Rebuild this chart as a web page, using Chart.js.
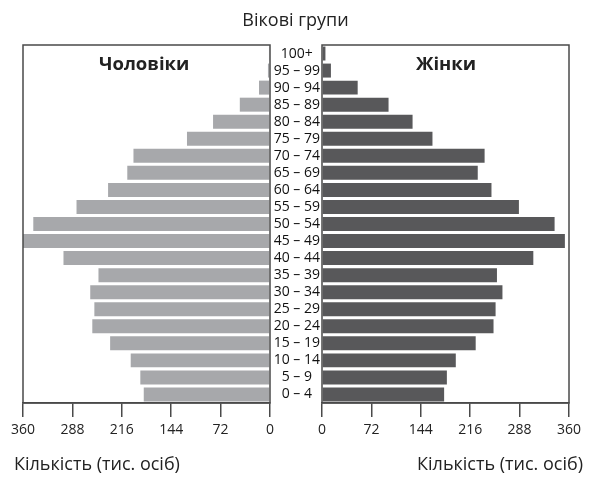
<!DOCTYPE html>
<html>
<head>
<meta charset="utf-8">
<script src="https://cdn.jsdelivr.net/npm/chart.js@4.4.1/dist/chart.umd.min.js"></script>
<style>
  body { margin: 0; background: #fff; }
  #wrap { position: relative; width: 591px; height: 478px; font-family: "Open Sans", sans-serif; color: #222; }
  canvas { position: absolute; left: 0; top: 0; }
  .txt { position: absolute; white-space: nowrap; }
</style>
</head>
<body>
<div id="wrap">
  <canvas id="graficoHombres" width="591" height="478"></canvas>
  <canvas id="graficoMujeres" width="591" height="478"></canvas>
  <div class="txt" style="left:0; width:591px; text-align:center; top:7px; font-size:18px;">Вікові групи</div>
  <div class="txt" style="left:99px; top:50px; font-size:18.5px; font-weight:bold;">Чоловіки</div>
  <div class="txt" style="left:416px; top:50px; font-size:18.5px; font-weight:bold;">Жінки</div>
  <div class="txt" style="left:14px; top:451px; font-size:18px;">Кількість (тис. осіб)</div>
  <div class="txt" style="right:8px; top:451px; font-size:18px;">Кількість (тис. осіб)</div>
</div>
<script>
// Grupos de edad (de menor a mayor)
const grupos = ['0 – 4', '5 – 9', '10 – 14', '15 – 19', '20 – 24', '25 – 29', '30 – 34', '35 – 39',
    '40 – 44', '45 – 49', '50 – 54', '55 – 59', '60 – 64', '65 – 69', '70 – 74', '75 – 79',
    '80 – 84', '85 – 89', '90 – 94', '95 – 99', '100+'];
const hombres = [184, 189, 203, 233, 259, 256, 262, 250, 301, 360, 345, 282, 236, 208, 199, 121, 83, 44, 16, 3, 1.5];
const mujeres = [178, 182, 195, 224, 250, 253, 263, 255, 308, 354, 339, 287, 247, 227, 237, 161, 132, 97, 52, 13, 5];
const ticksX = [0, 72, 144, 216, 288, 360];

const colorBorde = '#4a4a4a';

// Marco alrededor del área del gráfico
const marco = {
    id: 'marco',
    afterDraw(chart) {
        const a = chart.chartArea;
        const ctx = chart.ctx;
        ctx.save();
        ctx.strokeStyle = colorBorde;
        ctx.lineWidth = 1.5;
        ctx.strokeRect(a.left, a.top, a.right - a.left, a.bottom - a.top);
        ctx.restore();
    }
};

const ejeX = (invertido) => ({
    type: 'linear',
    min: 0,
    max: 360,
    reverse: invertido,
    afterBuildTicks: (scale) => { scale.ticks = ticksX.map(v => ({ value: v })); },
    afterFit: (scale) => { scale.height = 75; },
    grid: { drawOnChartArea: false, drawTicks: true, tickLength: 14, color: colorBorde, lineWidth: 1.5 },
    border: { display: true, color: colorBorde, width: 1.5 },
    ticks: { color: '#222', font: { family: 'Open Sans', size: 14 }, padding: 5, maxRotation: 0 }
});

const opcionesBase = {
    responsive: false,
    animation: false,
    indexAxis: 'y',
    plugins: { legend: { display: false }, tooltip: { enabled: false } }
};

new Chart(document.getElementById('graficoHombres').getContext('2d'), {
    type: 'bar',
    data: {
        labels: grupos,
        datasets: [{ data: hombres, backgroundColor: '#a7a8ab', barPercentage: 0.82, categoryPercentage: 1 }]
    },
    options: {
        ...opcionesBase,
        layout: { padding: { left: 23, right: 321, top: 45, bottom: 0 } },
        scales: {
            x: ejeX(true),
            y: { display: false, reverse: true }
        }
    },
    plugins: [marco]
});

new Chart(document.getElementById('graficoMujeres').getContext('2d'), {
    type: 'bar',
    data: {
        labels: grupos,
        datasets: [{ data: mujeres, backgroundColor: '#58585a', barPercentage: 0.82, categoryPercentage: 1 }]
    },
    options: {
        ...opcionesBase,
        layout: { padding: { left: 270, right: 22, top: 45, bottom: 0 } },
        scales: {
            x: ejeX(false),
            y: {
                reverse: true,
                position: 'left',
                afterFit: (scale) => { scale.width = 52; },
                grid: { display: false, drawTicks: false },
                border: { display: false },
                ticks: { color: '#111', font: { family: 'Open Sans', size: 14 }, padding: 2, crossAlign: 'center', autoSkip: false }
            }
        }
    },
    plugins: [marco]
});
</script>
</body>
</html>
